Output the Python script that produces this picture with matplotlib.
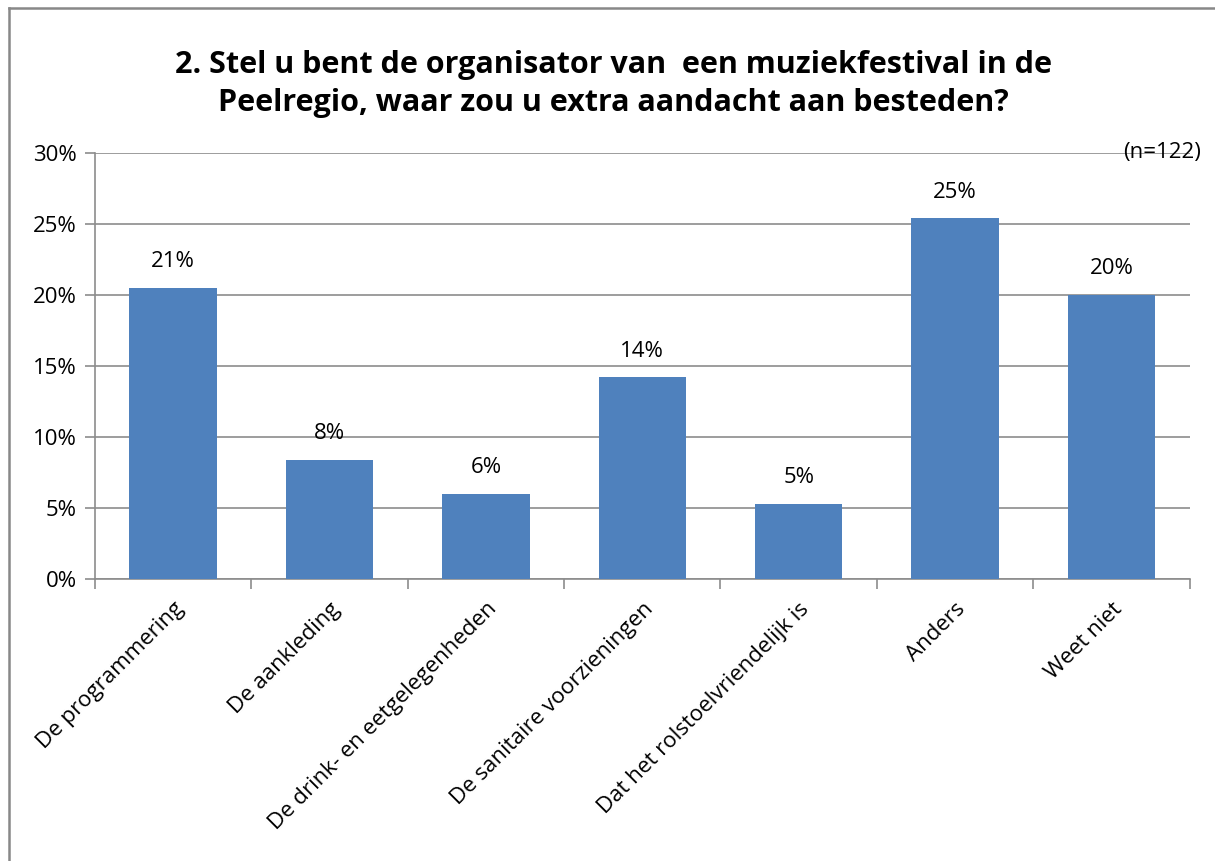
import matplotlib
matplotlib.use('Agg')
import matplotlib.pyplot as plt
from matplotlib.lines import Line2D

categories = ['De programmering', 'De aankleding', 'De drink- en eetgelegenheden',
              'De sanitaire voorzieningen', 'Dat het rolstoelvriendelijk is',
              'Anders', 'Weet niet']
values = [20.5, 8.4, 6.0, 14.2, 5.3, 25.4, 20.0]
labels = ['21%', '8%', '6%', '14%', '5%', '25%', '20%']
yticks = [0, 5, 10, 15, 20, 25, 30]

title = '2. Stel u bent de organisator van  een muziekfestival in de\nPeelregio, waar zou u extra aandacht aan besteden?'

plt.rcParams['font.family'] = ['Open Sans', 'DejaVu Sans']

fig = plt.figure(figsize=(12.15, 8.61), dpi=100)
ax = fig.add_axes([0.0782, 0.3275, 0.9009, 0.4948])

x = list(range(len(categories)))
ax.bar(x, values, width=0.56, color='#4F81BD', zorder=3)

for xi, v, lab in zip(x, values, labels):
    ax.text(xi, v + 1.1, lab, ha='center', va='bottom', fontsize=16)

ax.set_xlim(-0.5, len(categories) - 0.5)
ax.set_ylim(0, 30)
ax.set_yticks(yticks)
ax.set_yticklabels([f'{t}%' for t in yticks], fontsize=16)
ax.yaxis.grid(True, color='#8c8c8c', linewidth=1.2, zorder=0)

# categorie-labels op het midden, tickstreepjes op de grenzen
ax.set_xticks(x)
ax.set_xticklabels(categories, rotation=45, ha='right', rotation_mode='anchor', fontsize=16)
ax.tick_params(axis='x', which='major', length=0, pad=14)
ax.set_xticks([i - 0.5 for i in range(len(categories) + 1)], minor=True)
ax.tick_params(axis='x', which='minor', length=7, color='#8c8c8c', width=1.2)
ax.tick_params(axis='y', length=7, color='#8c8c8c', width=1.2, pad=6)

for side in ['top', 'right']:
    ax.spines[side].set_visible(False)
for side in ['left', 'bottom']:
    ax.spines[side].set_color('#8c8c8c')
    ax.spines[side].set_linewidth(1.2)

ax.text(1.01, 1.0, '(n=122)', transform=ax.transAxes, ha='right', va='center', fontsize=16)

fig.text(0.505, 0.902, title, ha='center', va='center', fontsize=22, fontweight='bold',
         linespacing=1.35)

# grijze rand linksboven
fig.add_artist(Line2D([8.5 / 1215, 1.0], [1 - 8 / 861, 1 - 8 / 861], color='#888888', linewidth=1.8))
fig.add_artist(Line2D([8.5 / 1215, 8.5 / 1215], [0, 1 - 8 / 861], color='#888888', linewidth=1.8))

fig.savefig('out.png', dpi=100)
